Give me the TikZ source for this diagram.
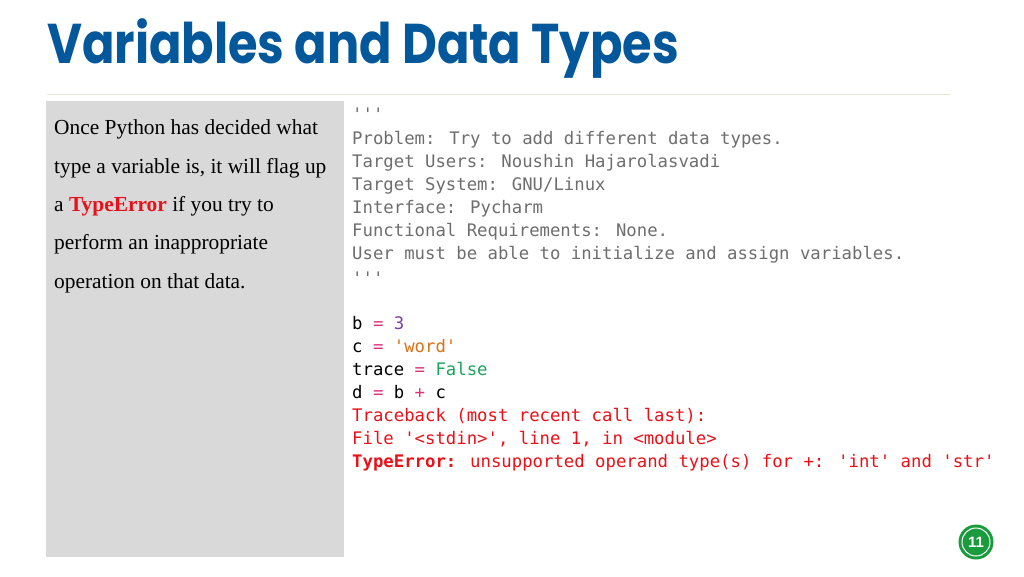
\documentclass[tikz,border=0pt]{standalone}
\usepackage{fontspec}
\setmainfont{Liberation Serif}
\setsansfont{Liberation Sans}
\newfontfamily\codefont{DejaVu Sans Mono}
\newfontfamily\titlefont{Poppins}
\definecolor{titleblue}{HTML}{03579B}
\definecolor{rulebeige}{HTML}{E9E6D3}
\definecolor{boxgray}{HTML}{D9D9D9}
\definecolor{codegray}{HTML}{6E6E6E}
\definecolor{codepink}{HTML}{E0307A}
\definecolor{codepurple}{HTML}{7B3FA0}
\definecolor{codeorange}{HTML}{D9731A}
\definecolor{codegreen}{HTML}{1AA35A}
\definecolor{codered}{HTML}{E8111A}
\definecolor{pagegreen}{HTML}{1A9B3E}
\tikzset{
  line/.style={anchor=base west, inner sep=0pt, font=\fontsize{21.4}{21.4}\selectfont},
  code/.style={anchor=base west, inner sep=0pt, font=\codefont\fontsize{17.3}{17.3}\selectfont},
}
\newcommand{\eq}{\textcolor{codepink}{=}}
\begin{document}
\begin{tikzpicture}[x=1pt,y=-1pt]
\useasboundingbox[fill=white] (0,0) rectangle (1024,576);
% title
\node[anchor=base west, inner sep=0pt, text=titleblue, xscale=0.855, font=\titlefont\bfseries\fontsize{56}{56}\selectfont] (title) at (47,63) {Variables and Data Types};
\draw[rulebeige, line width=1pt] (47,94) -- (950,94);
% gray box
\fill[boxgray] (46,101) rectangle (344,557);
\node[line] (l1) at (54,134) {Once Python has decided what};
\node[line] (l2) at (54,173) {type a variable is, it will flag up};
\node[line] (l3) at (54,211) {a \textcolor{codered}{\textbf{TypeError}} if you try to};
\node[line] (l4) at (54,249) {perform an inappropriate};
\node[line] (l5) at (54,288) {operation on that data.};
% code
\begin{scope}[every node/.style={code, text=codegray}]
\node (c0) at (352,120) {'''};
\node (c1) at (352,144) {Problem: Try to add different data types.};
\node (c2) at (352,167) {Target Users: Noushin Hajarolasvadi};
\node (c3) at (352,190) {Target System: GNU/Linux};
\node (c4) at (352,213) {Interface: Pycharm};
\node (c5) at (352,236) {Functional Requirements: None.};
\node (c6) at (352,259) {User must be able to initialize and assign variables.};
\node (c7) at (352,284) {'''};
\end{scope}
\begin{scope}[every node/.style={code, text=black}]
\node (d1) at (352,329) {b \eq{} \textcolor{codepurple}{3}};
\node (d2) at (352,352) {c \eq{} \textcolor{codeorange}{'word'}};
\node (d3) at (352,375) {trace \eq{} \textcolor{codegreen}{False}};
\node (d4) at (352,398) {d \eq{} b \textcolor{codepink}{+} c};
\end{scope}
\begin{scope}[every node/.style={code, text=codered}]
\node (e1) at (352,421) {Traceback (most recent call last):};
\node (e2) at (352,444) {File '<stdin>', line 1, in <module>};
\node (e3) at (352,467) {\textbf{TypeError:} unsupported operand type(s) for +: 'int' and 'str'};
\end{scope}
% page number
\fill[pagegreen] (976,542) circle (17.5);
\draw[white, line width=1pt] (976,542) circle (14);
\node[inner sep=0pt, text=white, font=\sffamily\bfseries\fontsize{15}{15}\selectfont] (pg) at (976,542) {11};
\end{tikzpicture}
\end{document}
